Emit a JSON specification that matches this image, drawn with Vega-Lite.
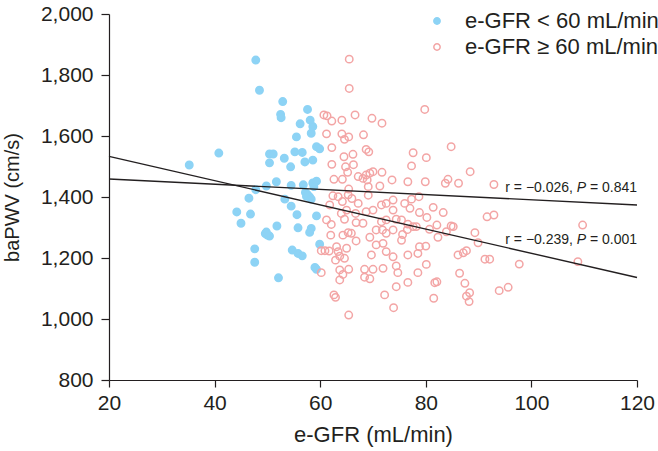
{
  "$schema": "https://vega.github.io/schema/vega-lite/v6.json",
  "width": 528,
  "height": 366,
  "autosize": {"type": "none"},
  "padding": {"left": 109, "top": 14, "right": 21, "bottom": 71},
  "background": "white",
  "config": {
    "view": {"stroke": null},
    "font": "Liberation Sans",
    "axis": {
      "grid": false,
      "domainColor": "#231f20",
      "tickColor": "#231f20",
      "labelColor": "#231f20",
      "titleColor": "#231f20",
      "labelFont": "Liberation Sans",
      "titleFont": "Liberation Sans",
      "labelFontSize": 21,
      "titleFontWeight": "normal",
      "domainWidth": 1.2,
      "tickWidth": 1.2
    },
    "legend": {
      "labelFont": "Liberation Sans",
      "labelFontSize": 22,
      "labelColor": "#231f20",
      "labelLimit": 400
    }
  },
  "datasets": {
    "pts": [
      {"egfr": 47.8, "bapwv": 1849, "g": "lo"},
      {"egfr": 48.5, "bapwv": 1750, "g": "lo"},
      {"egfr": 52.9, "bapwv": 1713, "g": "lo"},
      {"egfr": 52.5, "bapwv": 1671, "g": "lo"},
      {"egfr": 52.6, "bapwv": 1660, "g": "lo"},
      {"egfr": 57.6, "bapwv": 1687, "g": "lo"},
      {"egfr": 56.2, "bapwv": 1640, "g": "lo"},
      {"egfr": 58.1, "bapwv": 1652, "g": "lo"},
      {"egfr": 58.6, "bapwv": 1631, "g": "lo"},
      {"egfr": 58.3, "bapwv": 1609, "g": "lo"},
      {"egfr": 55.5, "bapwv": 1597, "g": "lo"},
      {"egfr": 59.3, "bapwv": 1565, "g": "lo"},
      {"egfr": 59.9, "bapwv": 1558, "g": "lo"},
      {"egfr": 40.8, "bapwv": 1544, "g": "lo"},
      {"egfr": 35.2, "bapwv": 1505, "g": "lo"},
      {"egfr": 50.4, "bapwv": 1541, "g": "lo"},
      {"egfr": 51.1, "bapwv": 1541, "g": "lo"},
      {"egfr": 50.4, "bapwv": 1512, "g": "lo"},
      {"egfr": 53.2, "bapwv": 1527, "g": "lo"},
      {"egfr": 55.2, "bapwv": 1548, "g": "lo"},
      {"egfr": 56.6, "bapwv": 1546, "g": "lo"},
      {"egfr": 57.1, "bapwv": 1515, "g": "lo"},
      {"egfr": 58.6, "bapwv": 1521, "g": "lo"},
      {"egfr": 54.4, "bapwv": 1499, "g": "lo"},
      {"egfr": 51.7, "bapwv": 1450, "g": "lo"},
      {"egfr": 49.8, "bapwv": 1436, "g": "lo"},
      {"egfr": 47.8, "bapwv": 1424, "g": "lo"},
      {"egfr": 54.5, "bapwv": 1438, "g": "lo"},
      {"egfr": 56.8, "bapwv": 1440, "g": "lo"},
      {"egfr": 58.6, "bapwv": 1446, "g": "lo"},
      {"egfr": 59.3, "bapwv": 1452, "g": "lo"},
      {"egfr": 58.8, "bapwv": 1434, "g": "lo"},
      {"egfr": 57.2, "bapwv": 1415, "g": "lo"},
      {"egfr": 57.6, "bapwv": 1408, "g": "lo"},
      {"egfr": 58.0, "bapwv": 1400, "g": "lo"},
      {"egfr": 57.4, "bapwv": 1402, "g": "lo"},
      {"egfr": 58.3, "bapwv": 1393, "g": "lo"},
      {"egfr": 46.5, "bapwv": 1396, "g": "lo"},
      {"egfr": 53.3, "bapwv": 1393, "g": "lo"},
      {"egfr": 54.5, "bapwv": 1370, "g": "lo"},
      {"egfr": 44.2, "bapwv": 1351, "g": "lo"},
      {"egfr": 46.8, "bapwv": 1344, "g": "lo"},
      {"egfr": 45.0, "bapwv": 1314, "g": "lo"},
      {"egfr": 55.6, "bapwv": 1342, "g": "lo"},
      {"egfr": 59.3, "bapwv": 1338, "g": "lo"},
      {"egfr": 51.8, "bapwv": 1305, "g": "lo"},
      {"egfr": 55.8, "bapwv": 1299, "g": "lo"},
      {"egfr": 58.3, "bapwv": 1297, "g": "lo"},
      {"egfr": 58.0, "bapwv": 1284, "g": "lo"},
      {"egfr": 49.6, "bapwv": 1280, "g": "lo"},
      {"egfr": 50.0, "bapwv": 1275, "g": "lo"},
      {"egfr": 50.4, "bapwv": 1272, "g": "lo"},
      {"egfr": 49.8, "bapwv": 1285, "g": "lo"},
      {"egfr": 59.9, "bapwv": 1245, "g": "lo"},
      {"egfr": 47.6, "bapwv": 1230, "g": "lo"},
      {"egfr": 47.6, "bapwv": 1186, "g": "lo"},
      {"egfr": 54.7, "bapwv": 1226, "g": "lo"},
      {"egfr": 55.8, "bapwv": 1215, "g": "lo"},
      {"egfr": 56.6, "bapwv": 1207, "g": "lo"},
      {"egfr": 59.0, "bapwv": 1169, "g": "lo"},
      {"egfr": 59.3, "bapwv": 1163, "g": "lo"},
      {"egfr": 52.1, "bapwv": 1135, "g": "lo"},
      {"egfr": 65.5, "bapwv": 1852, "g": "hi"},
      {"egfr": 65.5, "bapwv": 1756, "g": "hi"},
      {"egfr": 60.7, "bapwv": 1669, "g": "hi"},
      {"egfr": 61.3, "bapwv": 1666, "g": "hi"},
      {"egfr": 62.2, "bapwv": 1649, "g": "hi"},
      {"egfr": 64.1, "bapwv": 1652, "g": "hi"},
      {"egfr": 66.6, "bapwv": 1669, "g": "hi"},
      {"egfr": 69.8, "bapwv": 1658, "g": "hi"},
      {"egfr": 71.7, "bapwv": 1642, "g": "hi"},
      {"egfr": 61.2, "bapwv": 1607, "g": "hi"},
      {"egfr": 64.1, "bapwv": 1607, "g": "hi"},
      {"egfr": 64.6, "bapwv": 1589, "g": "hi"},
      {"egfr": 65.4, "bapwv": 1597, "g": "hi"},
      {"egfr": 68.2, "bapwv": 1604, "g": "hi"},
      {"egfr": 62.2, "bapwv": 1562, "g": "hi"},
      {"egfr": 68.7, "bapwv": 1556, "g": "hi"},
      {"egfr": 69.2, "bapwv": 1548, "g": "hi"},
      {"egfr": 64.5, "bapwv": 1532, "g": "hi"},
      {"egfr": 66.2, "bapwv": 1540, "g": "hi"},
      {"egfr": 62.2, "bapwv": 1507, "g": "hi"},
      {"egfr": 64.8, "bapwv": 1499, "g": "hi"},
      {"egfr": 66.3, "bapwv": 1506, "g": "hi"},
      {"egfr": 65.2, "bapwv": 1481, "g": "hi"},
      {"egfr": 62.6, "bapwv": 1458, "g": "hi"},
      {"egfr": 64.2, "bapwv": 1458, "g": "hi"},
      {"egfr": 67.2, "bapwv": 1467, "g": "hi"},
      {"egfr": 68.7, "bapwv": 1472, "g": "hi"},
      {"egfr": 69.4, "bapwv": 1478, "g": "hi"},
      {"egfr": 70.0, "bapwv": 1483, "g": "hi"},
      {"egfr": 71.7, "bapwv": 1481, "g": "hi"},
      {"egfr": 73.6, "bapwv": 1456, "g": "hi"},
      {"egfr": 68.1, "bapwv": 1461, "g": "hi"},
      {"egfr": 68.9, "bapwv": 1456, "g": "hi"},
      {"egfr": 69.1, "bapwv": 1434, "g": "hi"},
      {"egfr": 71.3, "bapwv": 1436, "g": "hi"},
      {"egfr": 65.4, "bapwv": 1426, "g": "hi"},
      {"egfr": 62.4, "bapwv": 1404, "g": "hi"},
      {"egfr": 69.1, "bapwv": 1406, "g": "hi"},
      {"egfr": 63.4, "bapwv": 1401, "g": "hi"},
      {"egfr": 65.3, "bapwv": 1407, "g": "hi"},
      {"egfr": 64.2, "bapwv": 1385, "g": "hi"},
      {"egfr": 66.0, "bapwv": 1395, "g": "hi"},
      {"egfr": 67.2, "bapwv": 1379, "g": "hi"},
      {"egfr": 61.8, "bapwv": 1374, "g": "hi"},
      {"egfr": 64.0, "bapwv": 1346, "g": "hi"},
      {"egfr": 65.0, "bapwv": 1357, "g": "hi"},
      {"egfr": 66.7, "bapwv": 1346, "g": "hi"},
      {"egfr": 68.7, "bapwv": 1352, "g": "hi"},
      {"egfr": 70.0, "bapwv": 1357, "g": "hi"},
      {"egfr": 71.6, "bapwv": 1374, "g": "hi"},
      {"egfr": 72.5, "bapwv": 1379, "g": "hi"},
      {"egfr": 73.8, "bapwv": 1357, "g": "hi"},
      {"egfr": 73.8, "bapwv": 1390, "g": "hi"},
      {"egfr": 61.2, "bapwv": 1325, "g": "hi"},
      {"egfr": 62.1, "bapwv": 1310, "g": "hi"},
      {"egfr": 64.6, "bapwv": 1327, "g": "hi"},
      {"egfr": 66.8, "bapwv": 1316, "g": "hi"},
      {"egfr": 68.1, "bapwv": 1314, "g": "hi"},
      {"egfr": 71.6, "bapwv": 1319, "g": "hi"},
      {"egfr": 72.5, "bapwv": 1325, "g": "hi"},
      {"egfr": 74.4, "bapwv": 1327, "g": "hi"},
      {"egfr": 62.0, "bapwv": 1275, "g": "hi"},
      {"egfr": 64.3, "bapwv": 1275, "g": "hi"},
      {"egfr": 65.3, "bapwv": 1283, "g": "hi"},
      {"egfr": 65.9, "bapwv": 1281, "g": "hi"},
      {"egfr": 66.8, "bapwv": 1256, "g": "hi"},
      {"egfr": 69.4, "bapwv": 1268, "g": "hi"},
      {"egfr": 70.6, "bapwv": 1292, "g": "hi"},
      {"egfr": 71.8, "bapwv": 1292, "g": "hi"},
      {"egfr": 72.5, "bapwv": 1281, "g": "hi"},
      {"egfr": 73.8, "bapwv": 1292, "g": "hi"},
      {"egfr": 60.2, "bapwv": 1224, "g": "hi"},
      {"egfr": 60.9, "bapwv": 1224, "g": "hi"},
      {"egfr": 61.7, "bapwv": 1223, "g": "hi"},
      {"egfr": 63.1, "bapwv": 1237, "g": "hi"},
      {"egfr": 63.4, "bapwv": 1221, "g": "hi"},
      {"egfr": 65.0, "bapwv": 1232, "g": "hi"},
      {"egfr": 63.7, "bapwv": 1206, "g": "hi"},
      {"egfr": 64.6, "bapwv": 1199, "g": "hi"},
      {"egfr": 62.9, "bapwv": 1193, "g": "hi"},
      {"egfr": 70.6, "bapwv": 1243, "g": "hi"},
      {"egfr": 71.9, "bapwv": 1248, "g": "hi"},
      {"egfr": 72.5, "bapwv": 1221, "g": "hi"},
      {"egfr": 69.7, "bapwv": 1210, "g": "hi"},
      {"egfr": 73.8, "bapwv": 1204, "g": "hi"},
      {"egfr": 60.2, "bapwv": 1152, "g": "hi"},
      {"egfr": 63.7, "bapwv": 1161, "g": "hi"},
      {"egfr": 64.3, "bapwv": 1146, "g": "hi"},
      {"egfr": 65.4, "bapwv": 1163, "g": "hi"},
      {"egfr": 68.4, "bapwv": 1163, "g": "hi"},
      {"egfr": 70.0, "bapwv": 1163, "g": "hi"},
      {"egfr": 71.9, "bapwv": 1166, "g": "hi"},
      {"egfr": 68.4, "bapwv": 1137, "g": "hi"},
      {"egfr": 69.4, "bapwv": 1132, "g": "hi"},
      {"egfr": 74.4, "bapwv": 1174, "g": "hi"},
      {"egfr": 74.7, "bapwv": 1152, "g": "hi"},
      {"egfr": 63.7, "bapwv": 1128, "g": "hi"},
      {"egfr": 72.2, "bapwv": 1079, "g": "hi"},
      {"egfr": 74.4, "bapwv": 1106, "g": "hi"},
      {"egfr": 62.6, "bapwv": 1079, "g": "hi"},
      {"egfr": 62.9, "bapwv": 1071, "g": "hi"},
      {"egfr": 65.4, "bapwv": 1013, "g": "hi"},
      {"egfr": 73.9, "bapwv": 1037, "g": "hi"},
      {"egfr": 79.8, "bapwv": 1687, "g": "hi"},
      {"egfr": 77.6, "bapwv": 1545, "g": "hi"},
      {"egfr": 84.8, "bapwv": 1565, "g": "hi"},
      {"egfr": 80.1, "bapwv": 1529, "g": "hi"},
      {"egfr": 77.3, "bapwv": 1502, "g": "hi"},
      {"egfr": 88.4, "bapwv": 1483, "g": "hi"},
      {"egfr": 76.6, "bapwv": 1450, "g": "hi"},
      {"egfr": 79.9, "bapwv": 1450, "g": "hi"},
      {"egfr": 83.7, "bapwv": 1445, "g": "hi"},
      {"egfr": 84.2, "bapwv": 1458, "g": "hi"},
      {"egfr": 86.2, "bapwv": 1445, "g": "hi"},
      {"egfr": 92.9, "bapwv": 1441, "g": "hi"},
      {"egfr": 78.7, "bapwv": 1401, "g": "hi"},
      {"egfr": 77.3, "bapwv": 1393, "g": "hi"},
      {"egfr": 76.0, "bapwv": 1379, "g": "hi"},
      {"egfr": 77.0, "bapwv": 1363, "g": "hi"},
      {"egfr": 81.4, "bapwv": 1366, "g": "hi"},
      {"egfr": 78.8, "bapwv": 1349, "g": "hi"},
      {"egfr": 80.2, "bapwv": 1333, "g": "hi"},
      {"egfr": 83.3, "bapwv": 1349, "g": "hi"},
      {"egfr": 91.6, "bapwv": 1335, "g": "hi"},
      {"egfr": 92.9, "bapwv": 1341, "g": "hi"},
      {"egfr": 75.4, "bapwv": 1325, "g": "hi"},
      {"egfr": 76.6, "bapwv": 1311, "g": "hi"},
      {"egfr": 77.6, "bapwv": 1303, "g": "hi"},
      {"egfr": 78.2, "bapwv": 1303, "g": "hi"},
      {"egfr": 82.1, "bapwv": 1308, "g": "hi"},
      {"egfr": 80.7, "bapwv": 1294, "g": "hi"},
      {"egfr": 83.9, "bapwv": 1286, "g": "hi"},
      {"egfr": 84.8, "bapwv": 1305, "g": "hi"},
      {"egfr": 85.2, "bapwv": 1303, "g": "hi"},
      {"egfr": 82.3, "bapwv": 1268, "g": "hi"},
      {"egfr": 89.3, "bapwv": 1283, "g": "hi"},
      {"egfr": 89.9, "bapwv": 1250, "g": "hi"},
      {"egfr": 109.7, "bapwv": 1308, "g": "hi"},
      {"egfr": 75.6, "bapwv": 1277, "g": "hi"},
      {"egfr": 76.5, "bapwv": 1293, "g": "hi"},
      {"egfr": 75.4, "bapwv": 1258, "g": "hi"},
      {"egfr": 76.6, "bapwv": 1210, "g": "hi"},
      {"egfr": 78.5, "bapwv": 1215, "g": "hi"},
      {"egfr": 78.8, "bapwv": 1237, "g": "hi"},
      {"egfr": 80.0, "bapwv": 1239, "g": "hi"},
      {"egfr": 86.1, "bapwv": 1210, "g": "hi"},
      {"egfr": 87.1, "bapwv": 1217, "g": "hi"},
      {"egfr": 87.7, "bapwv": 1224, "g": "hi"},
      {"egfr": 91.2, "bapwv": 1196, "g": "hi"},
      {"egfr": 92.1, "bapwv": 1196, "g": "hi"},
      {"egfr": 97.7, "bapwv": 1180, "g": "hi"},
      {"egfr": 108.8, "bapwv": 1188, "g": "hi"},
      {"egfr": 80.1, "bapwv": 1179, "g": "hi"},
      {"egfr": 76.6, "bapwv": 1120, "g": "hi"},
      {"egfr": 78.5, "bapwv": 1152, "g": "hi"},
      {"egfr": 86.4, "bapwv": 1150, "g": "hi"},
      {"egfr": 87.4, "bapwv": 1117, "g": "hi"},
      {"egfr": 88.3, "bapwv": 1086, "g": "hi"},
      {"egfr": 81.7, "bapwv": 1119, "g": "hi"},
      {"egfr": 82.1, "bapwv": 1122, "g": "hi"},
      {"egfr": 87.7, "bapwv": 1075, "g": "hi"},
      {"egfr": 88.2, "bapwv": 1057, "g": "hi"},
      {"egfr": 93.9, "bapwv": 1093, "g": "hi"},
      {"egfr": 95.6, "bapwv": 1104, "g": "hi"},
      {"egfr": 81.5, "bapwv": 1068, "g": "hi"}
    ],
    "fits": [
      {"egfr": 20, "bapwv": 1459, "fit": "all"},
      {"egfr": 120, "bapwv": 1374, "fit": "all"},
      {"egfr": 20, "bapwv": 1533, "fit": "hi"},
      {"egfr": 120, "bapwv": 1136, "fit": "hi"}
    ],
    "notes": [
      {"egfr": 120, "bapwv": 1429, "a": "r = −0.026,", "b": "P", "c": "= 0.841"},
      {"egfr": 120, "bapwv": 1259, "a": "r = −0.239,", "b": "P", "c": "= 0.001"}
    ]
  },
  "layer": [
    {
      "data": {"name": "pts"},
      "mark": {"type": "point", "shape": "circle", "filled": true, "size": 55, "strokeWidth": 1.5, "opacity": 1},
      "encoding": {
        "x": {
          "field": "egfr", "type": "quantitative",
          "scale": {"domain": [20, 120], "nice": false, "zero": false},
          "axis": {"title": "e-GFR (mL/min)", "titleFontSize": 22, "values": [20, 40, 60, 80, 100, 120], "tickSize": 7, "labelPadding": 5, "titlePadding": 11, "labelFlush": false}
        },
        "y": {
          "field": "bapwv", "type": "quantitative",
          "scale": {"domain": [800, 2000], "nice": false, "zero": false},
          "axis": {"title": "baPWV (cm/s)", "titleFontSize": 20, "values": [800, 1000, 1200, 1400, 1600, 1800, 2000], "format": ",.0f", "tickSize": 8, "labelPadding": 8, "titlePadding": 18, "labelFlush": false}
        },
        "fill": {
          "field": "g", "type": "nominal",
          "scale": {"domain": ["lo", "hi"], "range": ["#8dd3f5", "transparent"]},
          "legend": {"title": null, "orient": "none", "legendX": 317, "legendY": -4, "symbolSize": 40, "symbolStrokeWidth": 1.5, "labelOffset": 17, "rowPadding": 4, "labelExpr": "datum.value == 'lo' ? 'e-GFR < 60 mL/min' : 'e-GFR ≥ 60 mL/min'"}
        },
        "stroke": {
          "field": "g", "type": "nominal",
          "scale": {"domain": ["lo", "hi"], "range": ["#8dd3f5", "#f3a5a5"]},
          "legend": {"title": null, "orient": "none", "legendX": 317, "legendY": -4, "symbolSize": 40, "symbolStrokeWidth": 1.5, "labelOffset": 17, "rowPadding": 4, "labelExpr": "datum.value == 'lo' ? 'e-GFR < 60 mL/min' : 'e-GFR ≥ 60 mL/min'"}
        }
      }
    },
    {
      "data": {"name": "fits"},
      "mark": {"type": "line", "color": "#231f20", "strokeWidth": 1.4},
      "encoding": {
        "x": {"field": "egfr", "type": "quantitative"},
        "y": {"field": "bapwv", "type": "quantitative"},
        "detail": {"field": "fit", "type": "nominal"}
      }
    },
    {
      "data": {"name": "notes"},
      "mark": {"type": "text", "align": "right", "baseline": "middle", "fontSize": 14, "font": "Liberation Sans", "color": "#231f20", "dx": -64},
      "encoding": {
        "x": {"field": "egfr", "type": "quantitative"},
        "y": {"field": "bapwv", "type": "quantitative"},
        "text": {"field": "a"}
      }
    },
    {
      "data": {"name": "notes"},
      "mark": {"type": "text", "align": "right", "baseline": "middle", "fontSize": 14, "font": "Liberation Sans", "fontStyle": "italic", "color": "#231f20", "dx": -51},
      "encoding": {
        "x": {"field": "egfr", "type": "quantitative"},
        "y": {"field": "bapwv", "type": "quantitative"},
        "text": {"field": "b"}
      }
    },
    {
      "data": {"name": "notes"},
      "mark": {"type": "text", "align": "right", "baseline": "middle", "fontSize": 14, "font": "Liberation Sans", "color": "#231f20", "dx": 0},
      "encoding": {
        "x": {"field": "egfr", "type": "quantitative"},
        "y": {"field": "bapwv", "type": "quantitative"},
        "text": {"field": "c"}
      }
    }
  ]
}
